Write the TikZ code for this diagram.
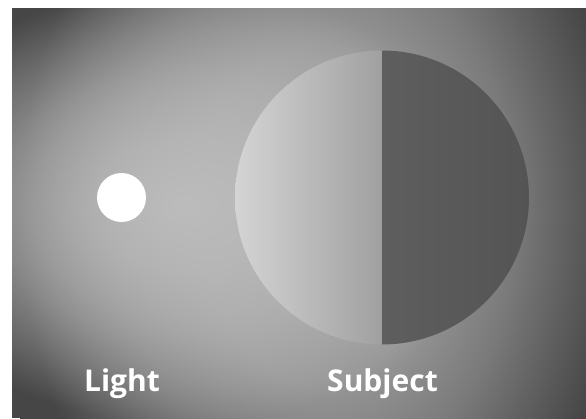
\documentclass[tikz,border=0pt]{standalone}
\usepackage{fontspec}
\setmainfont{Open Sans}
\usetikzlibrary{fadings}
\definecolor{bgA}{HTML}{9E9E9E}
\definecolor{bgB}{HTML}{969696}
\definecolor{bgC}{HTML}{7A7A7A}
\definecolor{bgD}{HTML}{5C5C5C}
\definecolor{bgE}{HTML}{464646}
\definecolor{glowcol}{HTML}{BCBCBC}
\definecolor{litA}{HTML}{D4D4D4}
\definecolor{litB}{HTML}{A0A0A0}
\definecolor{darkA}{HTML}{5E5E5E}
\definecolor{darkB}{HTML}{545454}
\pgfdeclareradialshading{bgshade}{\pgfpoint{0bp}{0bp}}{%
  color(0bp)=(bgA); color(10bp)=(bgB); color(16.25bp)=(bgC); color(21.25bp)=(bgD);
  color(25bp)=(bgE); color(50bp)=(bgE)}
\pgfdeclareradialshading{glowfadeshade}{\pgfpoint{0bp}{0bp}}{%
  color(0bp)=(white); color(7.5bp)=(white!85!black); color(12.5bp)=(white!68!black);
  color(15bp)=(white!57!black); color(20bp)=(white!30!black); color(25bp)=(black);
  color(50bp)=(black)}
\pgfdeclarefading{glowfade}{\pgfuseshading{glowfadeshade}}
\tikzset{
  label text/.style={text=white, font=\bfseries\fontsize{30}{36}\selectfont, anchor=base, inner sep=0pt}
}
\begin{document}
\begin{tikzpicture}[x=1pt,y=-1pt]
\useasboundingbox (0,0) rectangle (586,418);
% background
\begin{scope}
  \clip (12,8) rectangle (586,418);
  \fill[bgE] (12,8) rectangle (586,418);
  \shade[shading=bgshade] (320-300,213-420) rectangle (320+300,213+420);
  \fill[glowcol, path fading=glowfade] (185-310,205-220) rectangle (185+310,205+220);
\end{scope}
% subject
\coordinate (sc) at (382,197.5);
\shade[left color=litA, right color=litB]
  (382,344.5) arc[start angle=90, end angle=270, radius=147] -- cycle;
\shade[left color=darkA, right color=darkB]
  (382,344.5) arc[start angle=90, end angle=-90, radius=147] -- cycle;
% light
\fill[white] (121.5,197.5) circle[radius=24.5];
\node[label text] (lt) at (122,391.5) {Light};
\node[label text] (st) at (382.5,391.5) {Subject};
\end{tikzpicture}
\end{document}
